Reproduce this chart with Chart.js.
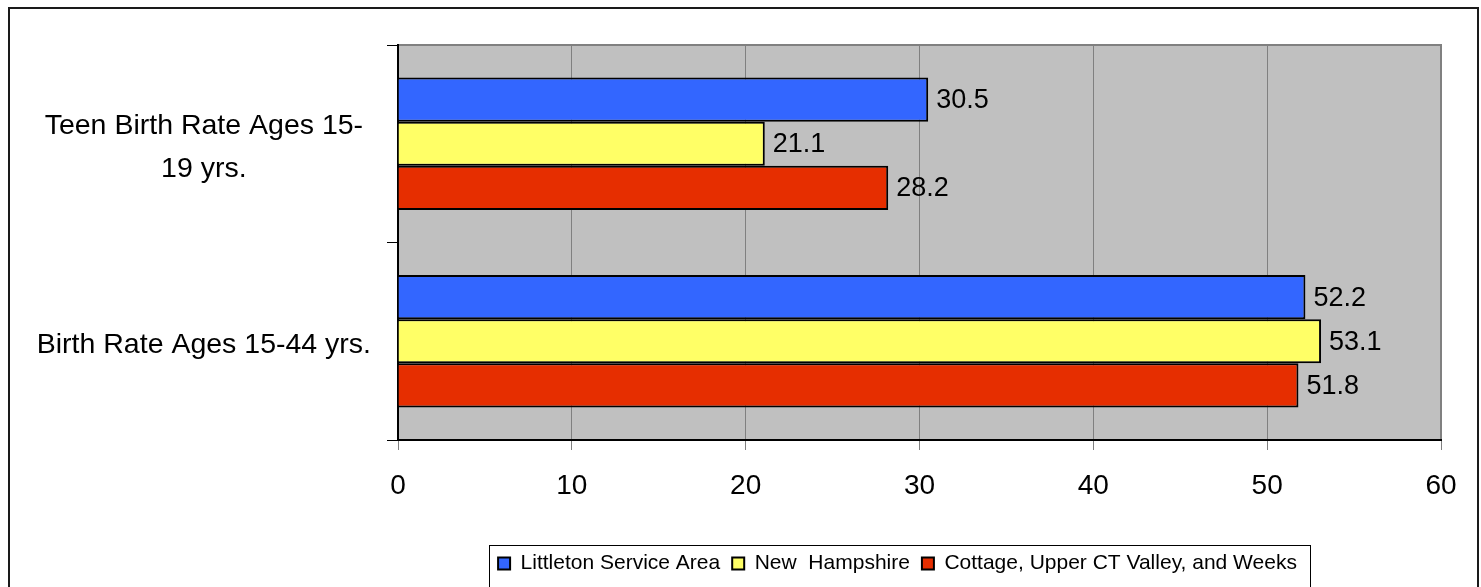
<!DOCTYPE html>
<html>
<head>
<meta charset="utf-8">
<script src="https://cdn.jsdelivr.net/npm/chart.js@4.4.0/dist/chart.umd.min.js"></script>
<style>
html, body { margin: 0; padding: 0; background: #fff; }
#wrap { width: 1481px; height: 587px; position: relative; }
</style>
</head>
<body>
<div id="wrap"><canvas id="chart"></canvas></div>
<script>
// data
const categories = [['Teen Birth Rate Ages 15-', '19 yrs.'], 'Birth Rate Ages 15-44 yrs.'];
const seriesNames = ['Littleton Service Area', 'New  Hampshire', 'Cottage, Upper CT Valley, and Weeks'];
const littleton = [30.5, 52.2];
const newHampshire = [21.1, 53.1];
const cottage = [28.2, 51.8];
const xMin = 0;
const xMax = 60;
const xStep = 10;

const FONT = '"Liberation Sans", Arial, sans-serif';

// gray plot area, outer frame, legend frame
const plotBackground = {
    id: 'plotBackground',
    afterLayout(chart) {
        // the legend sits to the right of the page centre, under the plot
        const lg = chart.legend;
        lg.left = 354;
        lg.width = lg.right - lg.left;
    },
    beforeDraw(chart) {
        const { ctx, chartArea: a } = chart;
        ctx.save();
        ctx.fillStyle = '#fff';
        ctx.fillRect(0, 0, chart.width, chart.height);
        ctx.fillStyle = '#C0C0C0';
        ctx.fillRect(a.left, a.top, a.right - a.left, a.bottom - a.top);
        ctx.strokeStyle = '#808080';
        ctx.lineWidth = 2;
        ctx.strokeRect(a.left, a.top, a.right - a.left, a.bottom - a.top);
        ctx.restore();
    },
    afterDraw(chart) {
        const ctx = chart.ctx;
        ctx.save();
        ctx.strokeStyle = '#1a1a1a';
        ctx.lineWidth = 2;
        ctx.strokeRect(9, 8, chart.width - 12, chart.height + 20);
        const boxes = chart.legend.legendHitBoxes;
        if (boxes && boxes.length) {
            const first = boxes[0];
            const last = boxes[boxes.length - 1];
            const left = Math.round(first.left - 9) + 0.5;
            const right = Math.round(last.left + last.width + 13) + 0.5;
            const top = Math.round(first.top - 8) + 0.5;
            ctx.strokeStyle = '#000';
            ctx.lineWidth = 1;
            ctx.strokeRect(left, top, right - left, 80);
        }
        ctx.restore();
    }
};

// value next to each bar
const valueLabels = {
    id: 'valueLabels',
    afterDatasetsDraw(chart) {
        const ctx = chart.ctx;
        ctx.save();
        ctx.font = '27px ' + FONT;
        ctx.fillStyle = '#000';
        ctx.textAlign = 'left';
        ctx.textBaseline = 'middle';
        chart.data.datasets.forEach((ds, i) => {
            chart.getDatasetMeta(i).data.forEach((bar, j) => {
                ctx.fillText(ds.data[j].toFixed(1), bar.x + 8, bar.y + 1);
            });
        });
        ctx.restore();
    }
};

const ctx = document.getElementById('chart').getContext('2d');
new Chart(ctx, {
    type: 'bar',
    data: {
        labels: categories,
        datasets: [{
            label: seriesNames[0],
            data: littleton,
            backgroundColor: '#3366FF'
        }, {
            label: seriesNames[1],
            data: newHampshire,
            backgroundColor: '#FFFF66'
        }, {
            label: seriesNames[2],
            data: cottage,
            backgroundColor: '#E62E00'
        }]
    },
    options: {
        indexAxis: 'y',
        responsive: true,
        maintainAspectRatio: false,
        animation: false,
        layout: { padding: { left: 12, right: 40, top: 45, bottom: 3 } },
        datasets: {
            bar: {
                borderColor: '#000',
                borderWidth: 2,
                categoryPercentage: 0.67,
                barPercentage: 1
            }
        },
        scales: {
            x: {
                min: xMin,
                max: xMax,
                afterFit(scale) { scale.height = 101; },
                ticks: {
                    stepSize: xStep,
                    color: '#000',
                    padding: 19,
                    font: { family: FONT, size: 28 }
                },
                grid: {
                    color: '#808080',
                    lineWidth: 1,
                    tickLength: 10,
                    tickColor: '#808080'
                },
                border: { color: '#000', width: 2 }
            },
            y: {
                afterFit(scale) { scale.width = 386; },
                ticks: {
                    color: '#000',
                    crossAlign: 'center',
                    labelOffset: 4,
                    font: { family: FONT, size: 28.5, lineHeight: 1.52 }
                },
                grid: {
                    offset: true,
                    drawOnChartArea: false,
                    tickLength: 24,
                    tickColor: '#000',
                    tickBorderDash: [11, 13],
                    tickBorderDashOffset: 11
                },
                border: { color: '#000', width: 2 }
            }
        },
        plugins: {
            legend: {
                position: 'bottom',
                labels: {
                    color: '#000',
                    boxWidth: 12,
                    boxHeight: 12,
                    padding: 12,
                    font: { family: FONT, size: 21 }
                }
            },
            tooltip: { enabled: false }
        }
    },
    plugins: [plotBackground, valueLabels]
});
</script>
</body>
</html>
